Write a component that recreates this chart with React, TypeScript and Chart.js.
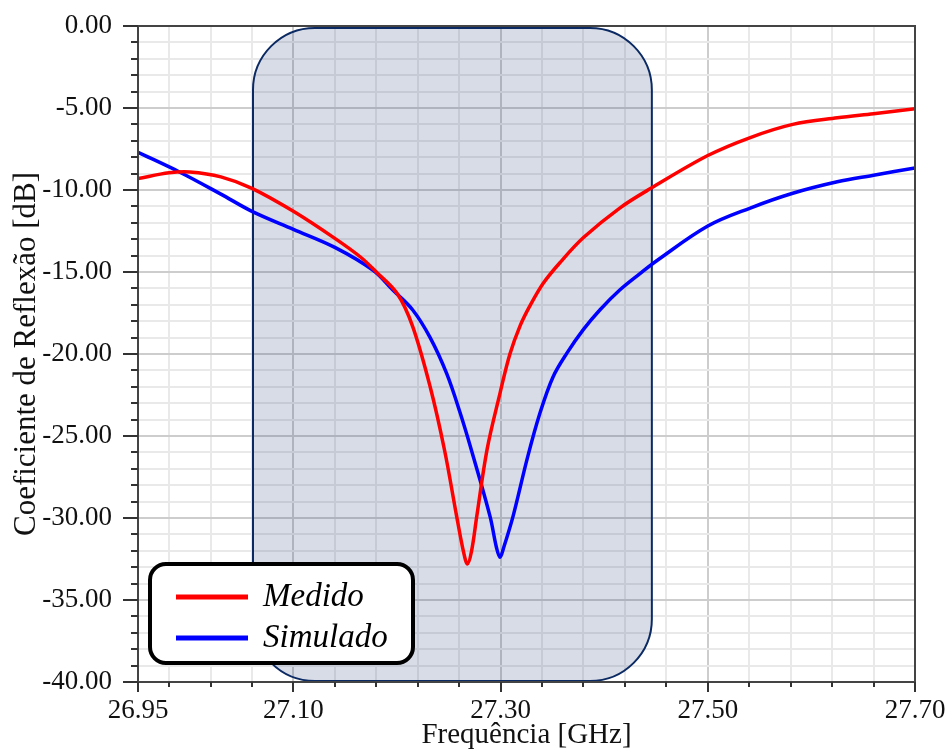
import React, { useEffect, useRef } from 'react';
import { Chart, registerables } from 'chart.js';

Chart.register(...registerables);

// ---- data ----
const medidoFreq = [
  26.95, 26.98, 27.0, 27.03, 27.06, 27.1, 27.14, 27.165, 27.18, 27.2, 27.215, 27.232, 27.246, 27.2576,
  27.264, 27.268, 27.272, 27.277, 27.287, 27.2994, 27.309, 27.3187, 27.328, 27.341, 27.357, 27.38,
  27.415, 27.445, 27.5, 27.541, 27.582, 27.625, 27.66, 27.7,
];
const medidoDb = [
  -9.3, -8.95, -8.9, -9.2, -9.9, -11.3, -12.95, -14.1, -15.0, -16.3, -18.3, -22.0, -25.9, -29.9,
  -32.0, -32.8, -32.0, -29.9, -25.8, -22.4, -20.0, -18.3, -17.1, -15.7, -14.45, -12.9,
  -11.1, -9.9, -7.9, -6.8, -6.0, -5.6, -5.35, -5.05,
];
const simuladoFreq = [
  26.95, 26.99, 27.03, 27.06, 27.1, 27.14, 27.177, 27.196, 27.215, 27.232, 27.248, 27.261, 27.272,
  27.2898, 27.296, 27.2994, 27.303, 27.312, 27.326, 27.338, 27.3506, 27.364, 27.38, 27.396, 27.415,
  27.4345, 27.451, 27.5, 27.541, 27.582, 27.625, 27.66, 27.7,
];
const simuladoDb = [
  -7.7, -8.9, -10.25, -11.3, -12.4, -13.5, -14.9, -16.1, -17.3, -19.0, -21.2, -23.6, -25.9,
  -29.9, -31.8, -32.4, -31.8, -29.9, -26.3, -23.6, -21.4, -19.95, -18.5, -17.3, -16.1,
  -15.1, -14.3, -12.2, -11.1, -10.2, -9.5, -9.1, -8.65,
];
const seriesLabels = ['Medido', 'Simulado'];
const seriesColors = ['#ff0000', '#0000ff'];

const xMin = 26.95;
const xMax = 27.7;
const xTickValues = [
  26.95, 26.98, 27.02, 27.06, 27.1, 27.14, 27.18, 27.22, 27.26, 27.3, 27.34, 27.38, 27.42, 27.46,
  27.5, 27.54, 27.58, 27.62, 27.66, 27.7,
];
const xTickLabels = ['26.95', '27.10', '27.30', '27.50', '27.70'];
const xMajorGrid = [27.1, 27.3, 27.5];
const yMin = -40;
const yMax = 0;
const yStep = 1;
const yLabelEvery = 5;
const shadeBand = [27.061, 27.446];
const xTitle = 'Frequência [GHz]';
const yTitle = 'Coeficiente de Reflexão [dB]';

const FONT = "'Liberation Serif', 'Times New Roman', serif";

const near = (a: number, b: number) => Math.abs(a - b) < 1e-6;
const isXLabel = (v: number) => xTickLabels.some((l) => near(parseFloat(l), v));
const isYMajor = (v: number) =>
  near(Math.abs(v % yLabelEvery), 0) || near(Math.abs(v % yLabelEvery), yLabelEvery);

const decorPlugin = {
  id: 'decor',
  beforeDatasetsDraw(chart: any) {
    const { ctx, scales } = chart;
    const x = scales.x;
    const y = scales.y;
    const x0 = x.getPixelForValue(shadeBand[0]);
    const x1 = x.getPixelForValue(shadeBand[1]);
    const y0 = y.getPixelForValue(yMax) + 2;
    const y1 = y.getPixelForValue(yMin) - 1;
    ctx.save();
    ctx.beginPath();
    ctx.roundRect(x0, y0, x1 - x0, y1 - y0, 62);
    ctx.fillStyle = 'rgba(40,60,120,0.18)';
    ctx.fill();
    ctx.lineWidth = 2;
    ctx.strokeStyle = '#0b2a63';
    ctx.stroke();
    ctx.restore();
  },
  afterDraw(chart: any) {
    const { ctx, chartArea: a, scales } = chart;
    const x = scales.x;
    const y = scales.y;
    ctx.save();
    // frame
    ctx.lineWidth = 2;
    ctx.strokeStyle = '#444';
    ctx.strokeRect(a.left, a.top, a.right - a.left, a.bottom - a.top);
    // tick marks
    ctx.lineWidth = 2;
    ctx.strokeStyle = '#333';
    ctx.beginPath();
    y.ticks.forEach((t: any) => {
      const py = Math.round(y.getPixelForValue(t.value));
      const len = isYMajor(t.value) ? 15 : 7;
      ctx.moveTo(a.left - len, py);
      ctx.lineTo(a.left, py);
    });
    x.ticks.forEach((t: any) => {
      const px = Math.round(x.getPixelForValue(t.value));
      const len = isXLabel(t.value) ? 10 : 5;
      ctx.moveTo(px, a.bottom);
      ctx.lineTo(px, a.bottom + len);
    });
    ctx.stroke();

    // legend
    const lx = a.left + 12;
    const ly = a.bottom - 118;
    const lw = 263;
    const lh = 99;
    ctx.beginPath();
    ctx.roundRect(lx, ly, lw, lh, 16);
    ctx.fillStyle = '#fff';
    ctx.fill();
    ctx.lineWidth = 4;
    ctx.strokeStyle = '#000';
    ctx.stroke();
    chart.data.datasets.forEach((ds: any, i: number) => {
      const rowY = ly + 33 + i * 41;
      ctx.beginPath();
      ctx.lineWidth = 5;
      ctx.strokeStyle = ds.borderColor;
      ctx.moveTo(lx + 26, rowY);
      ctx.lineTo(lx + 98, rowY);
      ctx.stroke();
      ctx.fillStyle = '#000';
      ctx.font = `italic 33px ${FONT}`;
      ctx.textBaseline = 'alphabetic';
      ctx.textAlign = 'left';
      ctx.fillText(ds.label, lx + 113, rowY + 8.5);
    });
    ctx.restore();
  },
};

export default function App() {
  const ref = useRef<HTMLCanvasElement>(null);
  useEffect(() => {
    const medido = medidoFreq.map((f, i) => ({ x: f, y: medidoDb[i] }));
    const simulado = simuladoFreq.map((f, i) => ({ x: f, y: simuladoDb[i] }));
    const chart = new Chart(ref.current as HTMLCanvasElement, {
      type: 'line',
      data: {
        datasets: [
          {
            label: seriesLabels[0],
            data: medido,
            borderColor: seriesColors[0],
            borderWidth: 3.5,
            pointRadius: 0,
            tension: 0.35,
            fill: false,
          },
          {
            label: seriesLabels[1],
            data: simulado,
            borderColor: seriesColors[1],
            borderWidth: 3.5,
            pointRadius: 0,
            tension: 0.35,
            fill: false,
          },
        ],
      },
      options: {
        responsive: false,
        animation: false,
        devicePixelRatio: 1,
        layout: { padding: { top: 26, right: 34, left: 0, bottom: 0 } },
        plugins: { legend: { display: false }, tooltip: { enabled: false } },
        scales: {
          x: {
            type: 'linear',
            min: xMin,
            max: xMax,
            afterBuildTicks: (scale: any) => {
              scale.ticks = xTickValues.map((v) => ({ value: v }));
            },
            afterFit: (scale: any) => {
              scale.height = 71;
              scale.paddingLeft = 0;
              scale.paddingRight = 0;
            },
            ticks: {
              autoSkip: false,
              maxRotation: 0,
              padding: 13,
              color: '#111',
              font: { family: FONT, size: 27 },
              callback: (v: any) => {
                const l = xTickLabels.find((s) => near(parseFloat(s), Number(v)));
                return l ?? '';
              },
            },
            grid: {
              drawTicks: false,
              lineWidth: 2,
              color: (c: any) =>
                c.tick && xMajorGrid.some((m) => near(m, c.tick.value)) ? '#cdcdcd' : '#e9e9e9',
            },
            border: { display: false },
            title: {
              display: true,
              text: xTitle,
              color: '#111',
              font: { family: FONT, size: 29 },
              padding: { top: 0, bottom: 0 },
            },
          },
          y: {
            type: 'linear',
            min: yMin,
            max: yMax,
            afterFit: (scale: any) => {
              scale.width = 138;
              scale.paddingTop = 0;
              scale.paddingBottom = 0;
            },
            ticks: {
              stepSize: yStep,
              autoSkip: false,
              padding: 26,
              color: '#111',
              font: { family: FONT, size: 27 },
              callback: (v: any) => (isYMajor(Number(v)) ? Number(v).toFixed(2) : ''),
            },
            grid: {
              drawTicks: false,
              lineWidth: 2,
              color: (c: any) => (c.tick && isYMajor(c.tick.value) ? '#cdcdcd' : '#e9e9e9'),
            },
            border: { display: false },
            title: {
              display: true,
              text: yTitle,
              color: '#111',
              font: { family: FONT, size: 31 },
              padding: { top: 8, bottom: 0 },
            },
          },
        },
      },
      plugins: [decorPlugin],
    } as any);
    return () => chart.destroy();
  }, []);
  return (
    <div style={{ position: 'absolute', left: 0, top: 0, width: 949, height: 753, background: '#fff' }}>
      <canvas ref={ref} width={949} height={753} style={{ display: 'block' }} />
    </div>
  );
}
